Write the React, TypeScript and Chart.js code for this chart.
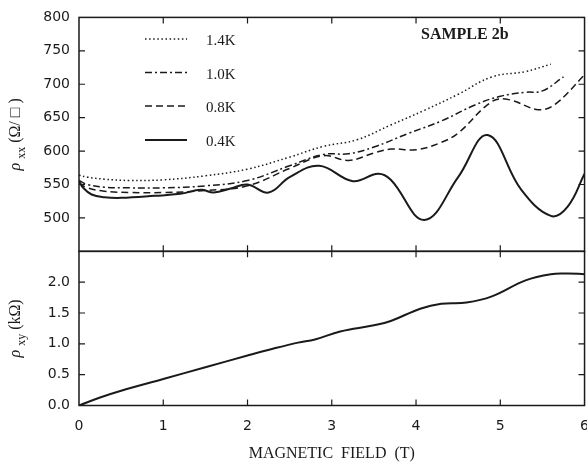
import React, { useEffect, useRef } from 'react';
import { Chart, registerables } from 'chart.js';

Chart.register(...registerables);

// ---- data (magnetic field in T, resistivities) ----
const field14K = [0, 0.1, 0.3, 0.6, 1.0, 1.5, 2.0, 2.5, 2.9, 3.3, 3.7, 4.1, 4.5, 4.9, 5.3, 5.6];
const rhoXX14K = [564, 561, 558, 556, 557, 563, 573, 591, 607, 617, 639, 661, 685, 711, 719, 730];

const field10K = [0, 0.1, 0.3, 0.6, 1.0, 1.5, 2.0, 2.5, 2.9, 3.2, 3.5, 3.9, 4.3, 4.7, 5.0, 5.3, 5.5, 5.75];
const rhoXX10K = [556, 550, 546, 545, 545, 548, 556, 578, 595, 596, 606, 626, 645, 669, 682, 688, 690, 711];

const field08K = [0, 0.1, 0.3, 0.6, 1.0, 1.5, 2.0, 2.5, 2.9, 3.2, 3.5, 3.7, 4.0, 4.3, 4.5, 4.9, 5.1, 5.45, 5.65, 6.0];
const rhoXX08K = [552, 545, 540, 538, 538, 541, 548, 574, 593, 586, 597, 603, 602, 613, 627, 674, 677, 662, 670, 714];

const field04K = [0, 0.05, 0.15, 0.3, 0.5, 0.9, 1.2, 1.45, 1.6, 1.8, 2.0, 2.25, 2.5, 2.85, 3.25, 3.55, 3.7, 4.1, 4.5, 4.85, 5.25, 5.6, 5.8, 6.0];
const rhoXX04K = [555, 545, 535, 531, 530, 533, 536, 542, 538, 544, 550, 538, 561, 578, 555, 566, 557, 497, 561, 624, 542, 503, 517, 566];

const fieldXY = [0, 0.25, 0.5, 1.0, 1.5, 2.0, 2.3, 2.6, 2.8, 3.1, 3.5, 3.7, 4.05, 4.3, 4.6, 4.9, 5.3, 5.6, 5.8, 6.0];
const rhoXY = [0, 0.13, 0.24, 0.43, 0.62, 0.81, 0.92, 1.02, 1.07, 1.2, 1.3, 1.37, 1.57, 1.65, 1.67, 1.77, 2.03, 2.13, 2.14, 2.13];

const fieldTicks = [0, 1, 2, 3, 4, 5, 6];
const rhoXXTicks = [500, 550, 600, 650, 700, 750, 800];
const rhoXYTicks = [0, 0.5, 1.0, 1.5, 2.0];
const seriesLabels = ['1.4K', '1.0K', '0.8K', '0.4K'];
const sampleLabel = 'SAMPLE 2b';
const xTitle = 'MAGNETIC  FIELD  (T)';

const INK = '#1a1a1a';
const DASHES: number[][] = [[1.5, 2.6], [7, 3, 2, 3], [7, 4], []];
const WIDTHS = [1.5, 1.5, 1.5, 2];

function pts(xs: number[], ys: number[]) {
  return xs.map((x, i) => ({ x, y: ys[i] }));
}

export default function App() {
  const ref = useRef<HTMLCanvasElement>(null);

  useEffect(() => {
    const decor = {
      id: 'decor',
      afterDatasetsDraw(chart: any) {
        const { ctx } = chart;
        const xs = chart.scales.x;
        const yT = chart.scales.yTop;
        const yB = chart.scales.yBot;
        const left = xs.left;
        const right = xs.right;
        const top = yT.top;
        const mid = yT.bottom;
        const bottom = yB.bottom;
        ctx.save();
        ctx.strokeStyle = INK;
        ctx.lineWidth = 1.5;
        ctx.setLineDash([]);
        ctx.strokeRect(left, top, right - left, mid - top);
        ctx.strokeRect(left, mid, right - left, bottom - mid);
        ctx.lineWidth = 1.2;
        ctx.beginPath();
        const T = 6;
        fieldTicks.slice(1, -1).forEach((v) => {
          const px = xs.getPixelForValue(v);
          ctx.moveTo(px, top); ctx.lineTo(px, top + T);
          ctx.moveTo(px, mid - T); ctx.lineTo(px, mid + T);
          ctx.moveTo(px, bottom); ctx.lineTo(px, bottom - T);
        });
        rhoXXTicks.slice(0, -1).forEach((v) => {
          const py = yT.getPixelForValue(v);
          ctx.moveTo(left, py); ctx.lineTo(left + T, py);
          ctx.moveTo(right, py); ctx.lineTo(right - T, py);
        });
        rhoXYTicks.slice(1).forEach((v) => {
          const py = yB.getPixelForValue(v);
          ctx.moveTo(left, py); ctx.lineTo(left + T, py);
          ctx.moveTo(right, py); ctx.lineTo(right - T, py);
        });
        ctx.stroke();

        // legend
        const ly = [39, 72.5, 106, 140];
        seriesLabels.forEach((lab, i) => {
          ctx.beginPath();
          ctx.setLineDash(DASHES[i]);
          ctx.lineWidth = WIDTHS[i];
          ctx.moveTo(145, ly[i]);
          ctx.lineTo(187, ly[i]);
          ctx.stroke();
          ctx.setLineDash([]);
          ctx.fillStyle = INK;
          ctx.font = '15px "Liberation Serif"';
          ctx.textAlign = 'left';
          ctx.textBaseline = 'middle';
          ctx.fillText(lab, 206, ly[i] + 2.5);
        });

        // sample label
        ctx.font = 'bold 16px "Liberation Serif"';
        ctx.textAlign = 'left';
        ctx.textBaseline = 'middle';
        ctx.fillText(sampleLabel, 421, 35);

        // y titles (rotated, with subscripts)
        const drawTitle = (cx: number, cy: number, sub: string, rest: string) => {
          ctx.save();
          ctx.translate(cx, cy);
          ctx.rotate(-Math.PI / 2);
          const big = '16px "Liberation Serif"';
          const small = '12px "Liberation Serif"';
          ctx.font = 'italic ' + big;
          const w1 = ctx.measureText('\u03C1 ').width;
          ctx.font = small;
          const w2 = ctx.measureText(sub).width;
          ctx.font = big;
          const w3 = ctx.measureText(rest).width;
          let x0 = -(w1 + w2 + w3) / 2;
          ctx.textAlign = 'left';
          ctx.textBaseline = 'middle';
          ctx.font = 'italic ' + big;
          ctx.fillText('\u03C1 ', x0, 0);
          x0 += w1;
          ctx.font = small;
          ctx.fillText(sub, x0, 6);
          x0 += w2;
          ctx.font = big;
          ctx.fillText(rest, x0, 0);
          ctx.restore();
        };
        drawTitle(16, (top + mid) / 2, 'xx', ' (\u03A9/ \u25A1 )');
        drawTitle(16, (mid + bottom) / 2, 'xy', ' (k\u03A9)');
        ctx.restore();
      },
    };

    const tickFont = { family: '"DejaVu Sans"', size: 14 };
    const common = (i: number) => ({
      borderColor: INK,
      borderWidth: WIDTHS[i],
      borderDash: DASHES[i],
      pointRadius: 0,
      fill: false,
      yAxisID: 'yTop',
    });

    const chart = new Chart(ref.current as HTMLCanvasElement, {
      type: 'line',
      data: {
        datasets: [
          { label: seriesLabels[0], data: pts(field14K, rhoXX14K), ...common(0) },
          { label: seriesLabels[1], data: pts(field10K, rhoXX10K), ...common(1) },
          { label: seriesLabels[2], data: pts(field08K, rhoXX08K), ...common(2) },
          { label: seriesLabels[3], data: pts(field04K, rhoXX04K), ...common(3) },
          {
            label: 'rho_xy',
            data: pts(fieldXY, rhoXY),
            borderColor: INK,
            borderWidth: 2,
            pointRadius: 0,
            fill: false,
            yAxisID: 'yBot',
          },
        ],
      } as any,
      options: {
        animation: false,
        responsive: false,
        layout: { padding: { top: 11.5, right: 14, left: 0, bottom: 0 } },
        elements: { line: { tension: 0.4 } },
        plugins: { legend: { display: false }, tooltip: { enabled: false } },
        scales: {
          x: {
            type: 'linear',
            min: 0,
            max: 6,
            afterBuildTicks: (s: any) => { s.ticks = fieldTicks.map((v) => ({ value: v })); },
            ticks: { padding: 12, font: tickFont, color: INK },
            grid: { display: false, drawTicks: false },
            border: { display: false },
            title: {
              display: true,
              text: xTitle,
              font: { family: '"Liberation Serif"', size: 16 },
              color: INK,
              padding: { top: 0, bottom: 0 },
            },
            afterFit: (s: any) => { s.height = 57.5; },
          },
          yBot: {
            type: 'linear',
            position: 'left',
            stack: 'rho',
            stackWeight: 156.5,
            min: 0,
            max: 2.5,
            afterBuildTicks: (s: any) => { s.ticks = rhoXYTicks.map((v) => ({ value: v })); },
            ticks: { padding: 9, font: tickFont, color: INK, callback: (v: any) => Number(v).toFixed(1) },
            grid: { display: false, drawTicks: false },
            border: { display: false },
            afterFit: (s: any) => { s.width = 79; },
          },
          yTop: {
            type: 'linear',
            position: 'left',
            stack: 'rho',
            stackWeight: 237.5,
            min: 450,
            max: 800,
            afterBuildTicks: (s: any) => { s.ticks = rhoXXTicks.map((v) => ({ value: v })); },
            ticks: { padding: 9, font: tickFont, color: INK },
            grid: { display: false, drawTicks: false },
            border: { display: false },
            afterFit: (s: any) => { s.width = 79; },
          },
        },
      } as any,
      plugins: [decor],
    });
    return () => chart.destroy();
  }, []);

  return (
    <div style={{ position: 'absolute', left: 0, top: 0, width: 587, height: 463, overflow: 'hidden', background: '#fff' }}>
      <canvas ref={ref} width={601} height={463} style={{ display: 'block' }} />
    </div>
  );
}
